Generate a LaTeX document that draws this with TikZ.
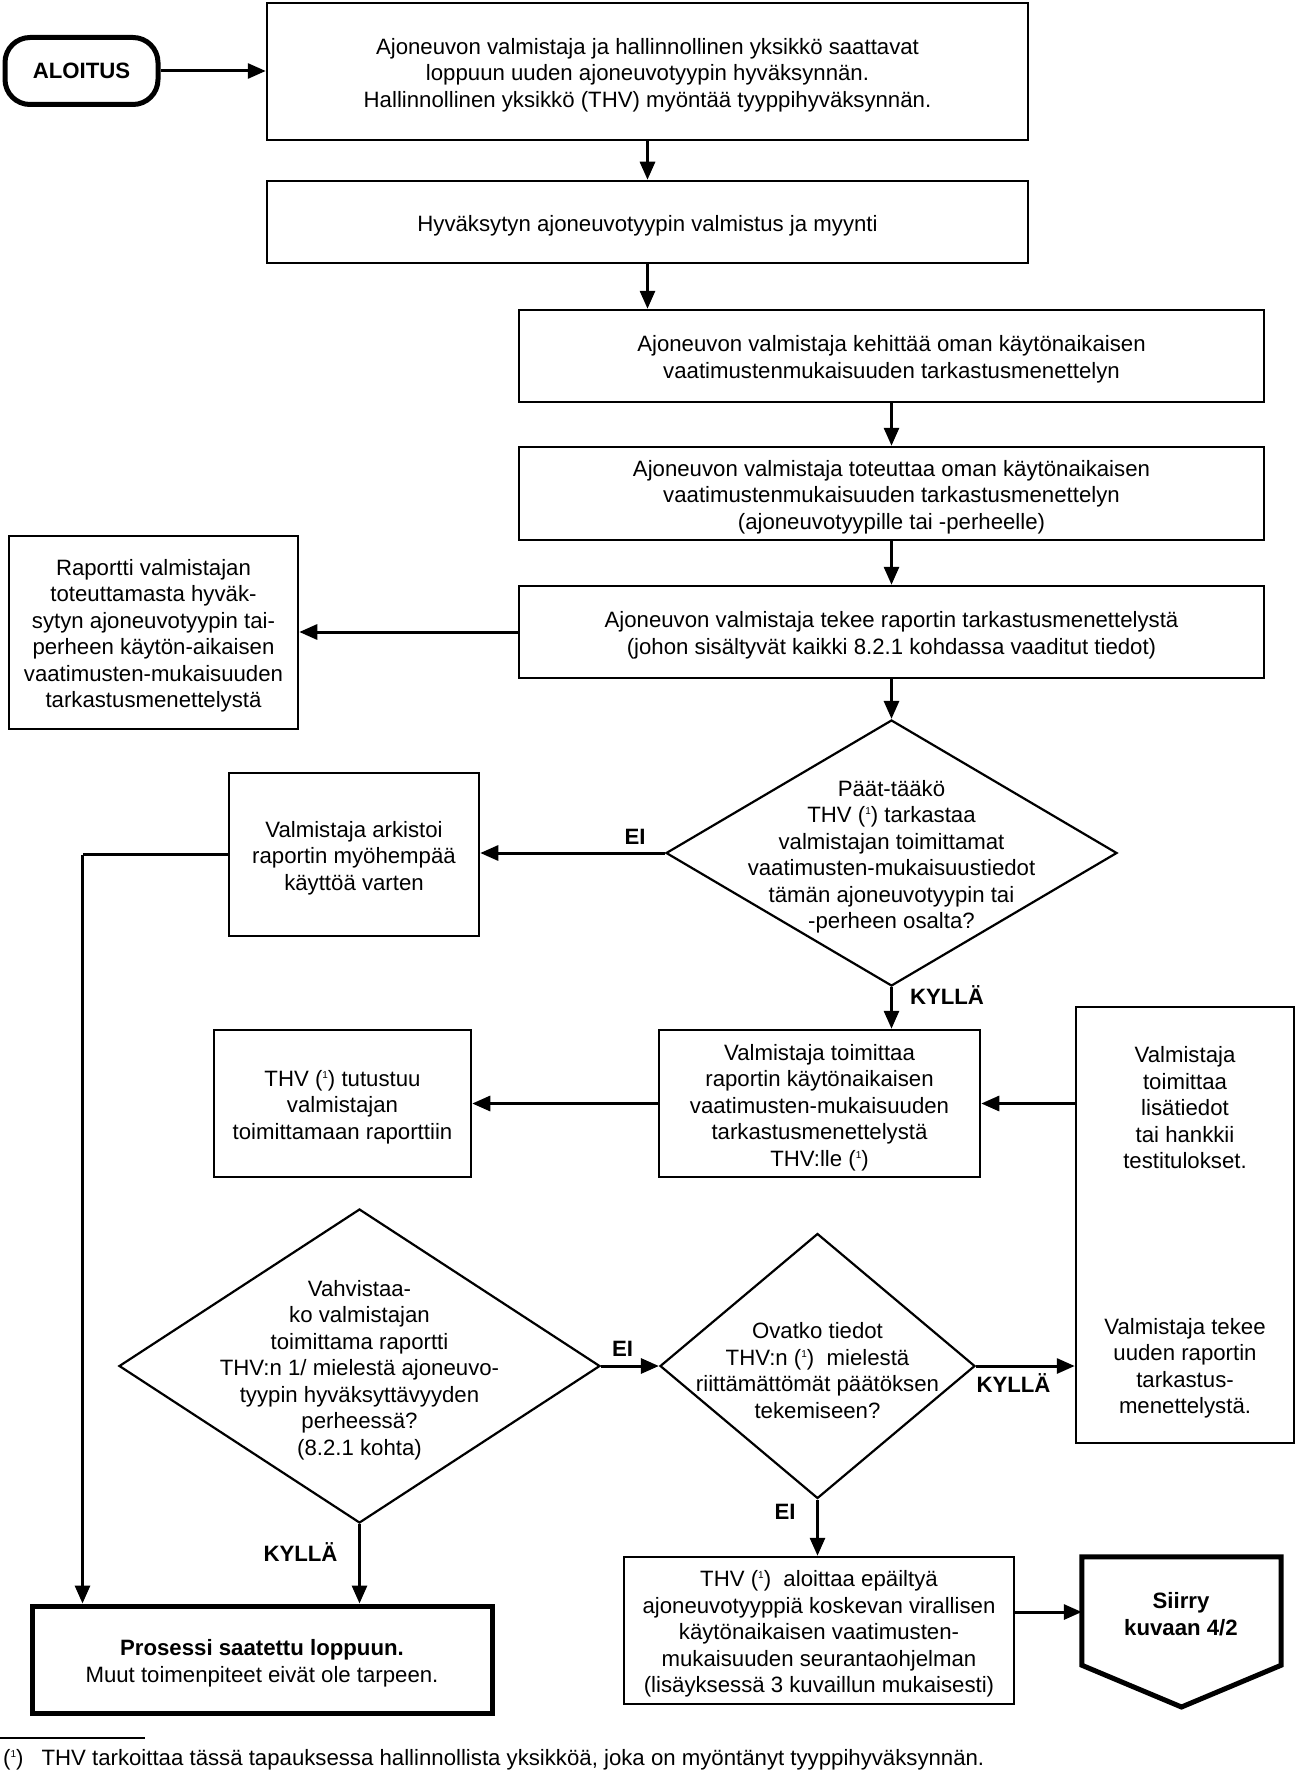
\documentclass[tikz,border=0pt]{standalone}
\usepackage{fontspec}
\setmainfont{Liberation Sans}
\usetikzlibrary{shapes.geometric,arrows.meta}
\newcommand{\diagfont}{\fontsize{22.2}{26.5}\selectfont}
\newcommand{\fn}{(\raisebox{8pt}{\fontsize{10}{10}\selectfont 1})}
\begin{document}
\begin{tikzpicture}[x=1pt,y=-1pt,
  box/.style={draw, line width=2.5pt, inner sep=0pt},
  thickbox/.style={box, line width=5pt},
  dia/.style={draw, diamond, line width=2.2pt, inner sep=0pt},
  txt/.style={align=center, inner sep=0pt, font=\diagfont},
  lbl/.style={inner sep=0pt, font=\diagfont\bfseries},
  arr/.style={line width=3pt, -{Triangle[length=18pt,width=15pt]}},
  plain/.style={line width=3pt}]
\useasboundingbox (0,0) rectangle (1296,1771);

% start
\node[thickbox, rounded corners=25pt, minimum width=153pt, minimum height=67pt, font=\diagfont\bfseries] (start) at (81.5,71) {ALOITUS};

% boxes
\node[box, minimum width=761pt, minimum height=137pt] (b1) at (647.5,71.5) {};
\node[txt] (b1t) at ([yshift=-3.5pt]b1.center) {Ajoneuvon valmistaja ja hallinnollinen yksikkö saattavat\\loppuun uuden ajoneuvotyypin hyväksynnän.\\Hallinnollinen yksikkö (THV) myöntää tyyppihyväksynnän.};
\node[box, minimum width=761pt, minimum height=82pt] (b2) at (647.5,222) {};
\node[txt] (b2t) at ([yshift=-3.5pt]b2.center) {Hyväksytyn ajoneuvotyypin valmistus ja myynti};
\node[box, minimum width=745pt, minimum height=92pt] (b3) at (891.5,356) {};
\node[txt] (b3t) at ([yshift=-3.5pt]b3.center) {Ajoneuvon valmistaja kehittää oman käytönaikaisen\\vaatimustenmukaisuuden tarkastusmenettelyn};
\node[box, minimum width=745pt, minimum height=93pt] (b4) at (891.5,493.5) {};
\node[txt] (b4t) at ([yshift=-3.5pt]b4.center) {Ajoneuvon valmistaja toteuttaa oman käytönaikaisen\\vaatimustenmukaisuuden tarkastusmenettelyn\\(ajoneuvotyypille tai -perheelle)};
\node[box, minimum width=745pt, minimum height=92pt] (b5) at (891.5,632) {};
\node[txt] (b5t) at ([yshift=-3.5pt]b5.center) {Ajoneuvon valmistaja tekee raportin tarkastusmenettelystä\\(johon sisältyvät kaikki 8.2.1 kohdassa vaaditut tiedot)};
\node[box, minimum width=289pt, minimum height=193pt] (rep) at (153.5,632.5) {};
\node[txt] (rept) at ([yshift=-3.5pt]rep.center) {Raportti valmistajan\\toteuttamasta hyväk-\\sytyn ajoneuvotyypin tai-\\perheen käytön-aikaisen\\vaatimusten-mukaisuuden\\tarkastusmenettelystä};

\node[dia, minimum width=451pt, minimum height=266pt] (d1) at (891.5,853) {};
\node[txt] (d1t) at (891.5,857) {Päät-tääkö\\THV \fn{} tarkastaa\\valmistajan toimittamat\\vaatimusten-mukaisuustiedot\\tämän ajoneuvotyypin tai\\-perheen osalta?};

\node[box, minimum width=250pt, minimum height=163pt] (arch) at (354,854.5) {};
\node[txt] (archt) at ([yshift=-3.5pt]arch.center) {Valmistaja arkistoi\\raportin myöhempää\\käyttöä varten};

\node[box, minimum width=321pt, minimum height=147pt] (bT) at (819.5,1103.5) {};
\node[txt] (bTt) at ([yshift=-4pt]bT.center) {Valmistaja toimittaa\\raportin käytönaikaisen\\vaatimusten-mukaisuuden\\tarkastusmenettelystä\\THV:lle \fn};
\node[box, minimum width=257pt, minimum height=147pt] (thv) at (342.5,1103.5) {};
\node[txt] (thvt) at ([yshift=-3.5pt]thv.center) {THV \fn{} tutustuu\\valmistajan\\toimittamaan raporttiin};

\node[box, minimum width=218pt, minimum height=436pt] (rt) at (1185,1225) {};
\node[txt] (rt1) at (1185,1108) {Valmistaja\\toimittaa\\lisätiedot\\tai hankkii\\testitulokset.};
\node[txt] (rt2) at (1185,1368) {Valmistaja tekee\\uuden raportin\\tarkastus-\\menettelystä.};

\node[dia, minimum width=481pt, minimum height=314pt] (d2) at (359.5,1366) {};
\node[txt] (d2t) at (359.5,1370) {Vahvistaa-\\ko valmistajan\\toimittama raportti\\THV:n 1/ mielestä ajoneuvo-\\tyypin hyväksyttävyyden\\perheessä?\\(8.2.1 kohta)};

\node[dia, minimum width=315pt, minimum height=265pt] (d3) at (817.5,1366) {};
\node[txt] (d3t) at (817.5,1370.5) {Ovatko tiedot\\THV:n \fn{}\ \ mielestä\\riittämättömät päätöksen\\tekemiseen?};

\node[thickbox, minimum width=460pt, minimum height=107pt] (endb) at (262,1659.5) {};
\node[txt] (endt) at ([yshift=-3.5pt]endb.center) {\textbf{Prosessi saatettu loppuun.}\\Muut toimenpiteet eivät ole tarpeen.};
\node[box, minimum width=390pt, minimum height=147pt] (alo) at (819,1630.5) {};
\node[txt] (alot) at ([yshift=-3.5pt]alo.center) {THV \fn{}\ \ aloittaa epäiltyä\\ajoneuvotyyppiä koskevan virallisen\\käytönaikaisen vaatimusten-\\mukaisuuden seurantaohjelman\\(lisäyksessä 3 kuvaillun mukaisesti)};

% Siirry off-page connector
\node[inner sep=0pt, minimum width=199pt, minimum height=108pt] (sirbox) at (1181.5,1611) {};
\coordinate (sirtip) at (1181.5,1707);
\draw[line width=5pt, line join=miter] (sirbox.north west) -- (sirbox.north east) -- (sirbox.south east) -- (sirtip) -- (sirbox.south west) -- cycle;
\node[txt, font=\diagfont\bfseries] (sir) at (1181,1614) {Siirry\\kuvaan 4/2};

% connectors
\draw[arr] (start.east) -- (start.east -| b1.west);
\draw[arr] (b1.south) -- (b2.north);
\draw[arr] (b2.south) -- (b2.south |- b3.north);
\draw[arr] (b3.south) -- (b4.north);
\draw[arr] (b4.south) -- (b5.north);
\draw[arr] (b5.west) -- (b5.west -| rep.east);
\draw[arr] (b5.south) -- (d1.north);
\draw[arr] (d1.west) -- (d1.west -| arch.east);
\coordinate (lc) at (82.5,854.5);
\draw[plain] (arch.west) -- (lc);
\draw[arr] (lc) -- (lc |- endb.north);
\draw[arr] (d1.south) -- (d1.south |- bT.north);
\draw[arr] (bT.west) -- (bT.west -| thv.east);
\draw[arr] (rt.west |- bT.east) -- (bT.east);
\draw[arr] (d2.east) -- (d2.east -| d3.west);
\draw[arr] (d3.east) -- (d3.east -| rt.west);
\draw[arr] (d2.south) -- (d2.south |- endb.north);
\draw[arr] (d3.south) -- (d3.south |- alo.north);
\draw[arr] ([yshift=18.5pt]alo.east) -- ([yshift=18.5pt]alo.east -| sirbox.west);

% labels
\node[lbl] (l1) at (635,837) {EI};
\node[lbl] (l2) at (947,995) {KYLLÄ};
\node[lbl] (l3) at (622.5,1349) {EI};
\node[lbl] (l4) at (1013.5,1383) {KYLLÄ};
\node[lbl] (l5) at (300.5,1552.5) {KYLLÄ};
\node[lbl] (l6) at (785,1512) {EI};

% footnote
\coordinate (fa) at (0,1738);
\coordinate (fb) at (145,1738);
\draw[line width=1.8pt] (fa) -- (fb);
\node[txt, anchor=west] (fn) at (3,1760) {\fn\hspace{18pt}THV tarkoittaa tässä tapauksessa hallinnollista yksikköä, joka on myöntänyt tyyppihyväksynnän.};
\end{tikzpicture}
\end{document}
